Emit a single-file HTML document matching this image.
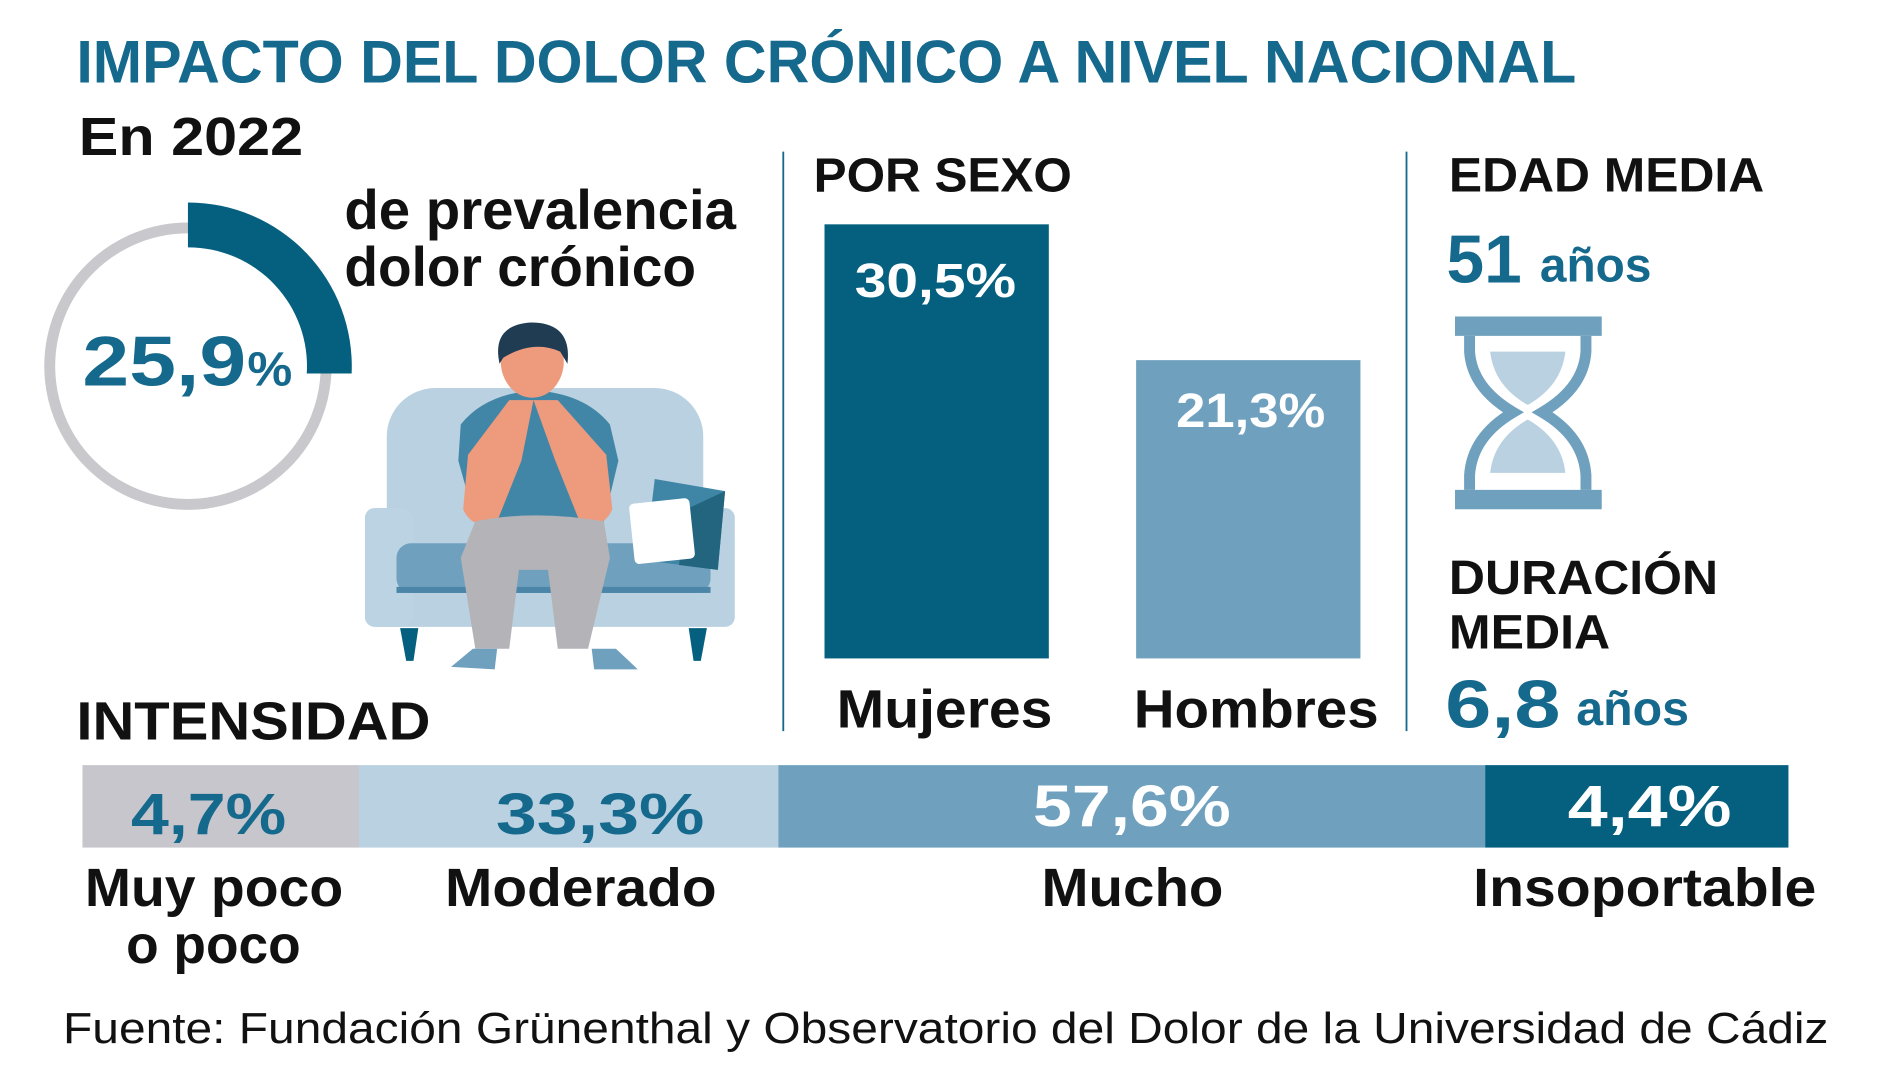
<!DOCTYPE html>
<html><head><meta charset="utf-8"><style>
html,body{margin:0;padding:0;background:#fff;width:1900px;height:1069px;overflow:hidden}
svg{display:block}
text{font-family:"Liberation Sans",sans-serif;font-weight:bold}
</style></head><body>
<svg width="1900" height="1069" viewBox="0 0 1567 881.6" preserveAspectRatio="none" xmlns="http://www.w3.org/2000/svg">
<rect width="1567" height="882" fill="#fff"/>
<text x="63" y="68" font-size="50" fill="#15698c" textLength="1237" lengthAdjust="spacingAndGlyphs">IMPACTO DEL DOLOR CRÓNICO A NIVEL NACIONAL</text>
<text x="65" y="128" font-size="44" fill="#111" textLength="185" lengthAdjust="spacingAndGlyphs">En 2022</text>
<text x="284" y="189" font-size="46" fill="#111" textLength="323" lengthAdjust="spacingAndGlyphs">de prevalencia</text>
<text x="284" y="236" font-size="46" fill="#111" textLength="290" lengthAdjust="spacingAndGlyphs">dolor crónico</text>
<!-- ring -->
<circle cx="155" cy="302" r="114" fill="none" stroke="#c9c8cd" stroke-width="9"/>
<path d="M155 167 A135 135 0 0 1 290 308 L253 308 A98 98 0 0 0 155 204 Z" fill="#05607f"/>
<text x="68" y="318" font-size="58" fill="#15698c" textLength="135" lengthAdjust="spacingAndGlyphs">25,9</text>
<text x="204" y="318" font-size="40" fill="#15698c" textLength="37" lengthAdjust="spacingAndGlyphs">%</text>
<!-- sofa illustration -->
<rect x="319" y="320" width="261" height="140" rx="40" fill="#b9d1e1"/>
<rect x="301" y="419" width="305" height="98" rx="8" fill="#b9d1e1"/>
<rect x="301" y="419" width="40" height="98" rx="10" fill="#bcd3e3"/>
<rect x="327" y="448" width="259" height="41" rx="12" fill="#6fa1bf"/>
<rect x="327" y="484" width="259" height="5" fill="#4b86a8"/>
<path d="M330 518 L345 518 L341 545 L335 545 Z" fill="#05607f"/>
<path d="M568 518 L583 518 L578 545 L572 545 Z" fill="#05607f"/>
<path d="M540 395 L598 405 L592 470 L532 462 Z" fill="#3f85a6"/>
<path d="M566 420 L598 405 L592 470 L560 466 Z" fill="#23647f"/>
<rect x="521" y="413" width="50" height="50" rx="4" fill="#fff" transform="rotate(-6 546 438)"/>
<!-- person -->
<path d="M380 350 Q400 325 440 322 Q482 324 503 350 L510 380 L498 430 L392 430 L378 380 Z" fill="#4286a7"/>
<ellipse cx="439" cy="298" rx="26" ry="30" fill="#ee9a7c"/>
<path d="M412 300 Q405 268 438 266 Q472 266 468 300 L462 290 Q440 280 415 295 Z" fill="#1f3c52"/>
<path d="M386 375 L382 420 Q390 438 410 430 L430 380 L440 330 L420 330 Z" fill="#ee9a7c"/>
<path d="M500 375 L505 420 Q497 438 478 430 L458 380 L440 330 L460 330 Z" fill="#ee9a7c"/>
<path d="M392 430 Q440 420 498 430 L503 460 L485 535 L460 535 L452 470 L428 470 L420 535 L392 535 L380 460 Z" fill="#b4b3b8"/>
<path d="M372 550 L390 535 L410 535 L408 552 Z" fill="#6fa1bf"/>
<path d="M488 535 L508 535 L526 552 L490 552 Z" fill="#6fa1bf"/>
<!-- dividers -->
<line x1="646" y1="125" x2="646" y2="603" stroke="#15698c" stroke-width="1.5"/>
<line x1="1160" y1="125" x2="1160" y2="603" stroke="#15698c" stroke-width="1.5"/>
<!-- por sexo -->
<text x="671" y="158" font-size="40" fill="#111" textLength="213" lengthAdjust="spacingAndGlyphs">POR SEXO</text>
<rect x="680" y="185" width="185" height="358" fill="#05607f"/>
<rect x="937" y="297" width="185" height="246" fill="#6fa1bf"/>
<text x="705" y="245" font-size="40" fill="#fff" textLength="133" lengthAdjust="spacingAndGlyphs">30,5%</text>
<text x="970" y="352" font-size="40" fill="#fff" textLength="123" lengthAdjust="spacingAndGlyphs">21,3%</text>
<text x="690" y="600" font-size="44" fill="#111" textLength="178" lengthAdjust="spacingAndGlyphs">Mujeres</text>
<text x="935" y="600" font-size="44" fill="#111" textLength="202" lengthAdjust="spacingAndGlyphs">Hombres</text>
<!-- edad -->
<text x="1195" y="158" font-size="40" fill="#111" textLength="260" lengthAdjust="spacingAndGlyphs">EDAD MEDIA</text>
<text x="1193" y="233" font-size="56" fill="#15698c" textLength="62" lengthAdjust="spacingAndGlyphs">51</text>
<text x="1270" y="232" font-size="40" fill="#15698c" textLength="92" lengthAdjust="spacingAndGlyphs">años</text>
<rect x="1200" y="261" width="121" height="16" fill="#6fa1bf"/>
<rect x="1200" y="404" width="121" height="16" fill="#6fa1bf"/>
<path d="M1212 277 L1212 290 Q1214 320 1248 340 Q1214 360 1212 392 L1212 404 M1308 277 L1308 290 Q1306 320 1272 340 Q1306 360 1308 392 L1308 404" fill="none" stroke="#6fa1bf" stroke-width="9"/>
<path d="M1229 290 L1291 290 Q1288 318 1260 334 Q1232 318 1229 290 Z" fill="#b9d1e1"/>
<path d="M1260 346 Q1232 362 1229 390 L1291 390 Q1288 362 1260 346 Z" fill="#b9d1e1"/>
<text x="1195" y="490" font-size="40" fill="#111" textLength="222" lengthAdjust="spacingAndGlyphs">DURACIÓN</text>
<text x="1195" y="535" font-size="40" fill="#111" textLength="133" lengthAdjust="spacingAndGlyphs">MEDIA</text>
<text x="1192" y="600" font-size="56" fill="#15698c" textLength="95" lengthAdjust="spacingAndGlyphs">6,8</text>
<text x="1300" y="598" font-size="40" fill="#15698c" textLength="93" lengthAdjust="spacingAndGlyphs">años</text>
<!-- intensidad -->
<text x="63" y="610" font-size="44" fill="#111" textLength="292" lengthAdjust="spacingAndGlyphs">INTENSIDAD</text>
<rect x="68" y="631" width="229" height="68" fill="#c7c6cc"/>
<rect x="296" y="631" width="347" height="68" fill="#b9d1e1"/>
<rect x="642" y="631" width="584" height="68" fill="#6fa1bf"/>
<rect x="1225" y="631" width="250" height="68" fill="#05607f"/>
<text x="108" y="688" font-size="48" fill="#15698c" textLength="128" lengthAdjust="spacingAndGlyphs">4,7%</text>
<text x="409" y="688" font-size="48" fill="#15698c" textLength="172" lengthAdjust="spacingAndGlyphs">33,3%</text>
<text x="852" y="681" font-size="48" fill="#fff" textLength="163" lengthAdjust="spacingAndGlyphs">57,6%</text>
<text x="1293" y="681" font-size="48" fill="#fff" textLength="135" lengthAdjust="spacingAndGlyphs">4,4%</text>
<text x="70" y="747" font-size="44" fill="#111" textLength="213" lengthAdjust="spacingAndGlyphs">Muy poco</text>
<text x="104" y="794" font-size="44" fill="#111" textLength="144" lengthAdjust="spacingAndGlyphs">o poco</text>
<text x="367" y="747" font-size="44" fill="#111" textLength="224" lengthAdjust="spacingAndGlyphs">Moderado</text>
<text x="859" y="747" font-size="44" fill="#111" textLength="150" lengthAdjust="spacingAndGlyphs">Mucho</text>
<text x="1215" y="747" font-size="44" fill="#111" textLength="283" lengthAdjust="spacingAndGlyphs">Insoportable</text>
<text x="52" y="860" font-size="36" fill="#111" textLength="1456" lengthAdjust="spacingAndGlyphs" style="font-weight:normal">Fuente: Fundación Grünenthal y Observatorio del Dolor de la Universidad de Cádiz</text>
</svg>
</body></html>
